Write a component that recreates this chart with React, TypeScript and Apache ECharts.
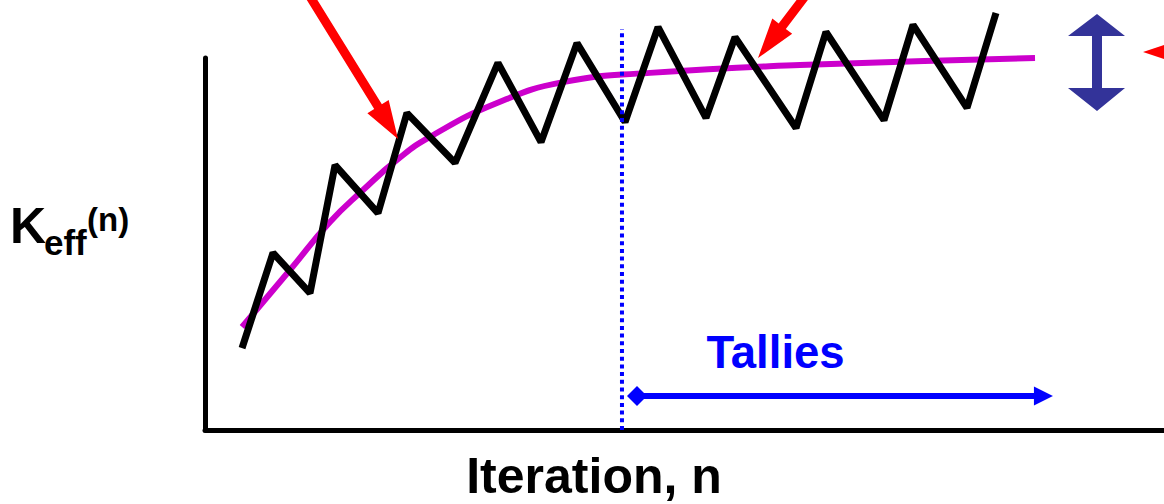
import { useEffect, useRef } from "react";
import * as echarts from "echarts";

// Iteration index (arbitrary units 0..100) and Keff (arbitrary units 0..100)
const iterZigzag = [3.86, 7.09, 10.95, 13.56, 18.04, 21.06, 26.07, 30.55, 35.04, 38.79, 43.8, 47.24, 52.24, 55.27, 61.63, 64.75, 70.8, 73.83, 79.46, 82.48];
const keffZigzag = [22.0, 47.6, 36.8, 71.2, 58.3, 85.2, 71.8, 98.7, 77.4, 104.0, 82.8, 108.3, 83.9, 105.6, 81.2, 107.0, 83.3, 108.9, 86.6, 112.1];

const iterMean = [3.86, 8.86, 13.03, 16.48, 20.02, 23.46, 30.45, 37.33, 46.4, 62.04, 86.55];
const keffMean = [27.7, 43.0, 55.9, 64.5, 72.6, 78.8, 87.9, 93.5, 96.0, 98.1, 100.0];

const tallyStart = 43.48; // start of tallies (dotted line)
const tallyArrowFrom = 45.05;
const tallyArrowTo = 87.43;
const tallyArrowLevel = 9.14;
const dottedTop = 107.8;

const xLabel = "Iteration, n";
const tallyLabel = "Tallies";

function arrowPts(x0: number, y0: number, x1: number, y1: number, sw: number, hl: number, hw: number) {
  const dx = x1 - x0, dy = y1 - y0;
  const len = Math.hypot(dx, dy);
  const ux = dx / len, uy = dy / len;
  const nx = -uy, ny = ux;
  const bx = x1 - ux * hl, by = y1 - uy * hl;
  return [
    [x0 + nx * sw / 2, y0 + ny * sw / 2],
    [bx + nx * sw / 2, by + ny * sw / 2],
    [bx + nx * hw / 2, by + ny * hw / 2],
    [x1, y1],
    [bx - nx * hw / 2, by - ny * hw / 2],
    [bx - nx * sw / 2, by - ny * sw / 2],
    [x0 - nx * sw / 2, y0 - ny * sw / 2],
  ];
}

export default function App() {
  const ref = useRef<HTMLDivElement>(null);
  useEffect(() => {
    const chart = echarts.init(ref.current!, null, { renderer: "svg" });
    const font = "'Liberation Sans', Arial, Helvetica, sans-serif";
    chart.setOption({
      animation: false,
      grid: { left: 205, right: 0, top: 58, bottom: 74 },
      xAxis: {
        type: "value",
        min: 0,
        max: 100,
        axisLine: { show: true, lineStyle: { color: "#000", width: 5 } },
        axisTick: { show: false },
        axisLabel: { show: false },
        splitLine: { show: false },
      },
      yAxis: {
        type: "value",
        min: 0,
        max: 100,
        axisLine: { show: true, lineStyle: { color: "#000", width: 5 } },
        axisTick: { show: false },
        axisLabel: { show: false },
        splitLine: { show: false },
      },
      series: [
        {
          type: "line",
          data: iterMean.map((x, i) => [x, keffMean[i]]),
          smooth: 0.5,
          symbol: "none",
          clip: false,
          z: 2,
          silent: true,
          lineStyle: { color: "#cc00cc", width: 6, cap: "butt" },
        },
        {
          type: "line",
          data: iterZigzag.map((x, i) => [x, keffZigzag[i]]),
          symbol: "none",
          clip: false,
          z: 3,
          silent: true,
          lineStyle: { color: "#000", width: 7, join: "bevel", cap: "butt" },
        },
        {
          type: "line",
          data: [[tallyStart, 0], [tallyStart, dottedTop]],
          symbol: "none",
          clip: false,
          z: 4,
          silent: true,
          lineStyle: { color: "#0000ff", width: 4, type: [4, 3.7], cap: "butt" },
        },
        {
          type: "line",
          data: [],
          clip: false,
          z: 4,
          silent: true,
          markLine: {
            silent: true,
            label: { show: false },
            emphasis: { disabled: true },
            data: [
              [
                { coord: [tallyArrowFrom, tallyArrowLevel], symbol: "diamond", symbolSize: 20, lineStyle: { color: "#0000ff", width: 6, type: "solid" }, itemStyle: { color: "#0000ff" } },
                { coord: [tallyArrowTo, tallyArrowLevel], symbol: "triangle", symbolSize: 19, itemStyle: { color: "#0000ff" } },
              ],
            ],
          },
        },
      ],
      graphic: [
        { type: "polygon", z: 100, silent: true, shape: { points: arrowPts(309, -5, 398, 139, 9, 38, 25) }, style: { fill: "#ff0000" } },
        { type: "polygon", z: 100, silent: true, shape: { points: arrowPts(806, -5, 758, 58, 9, 40, 25) }, style: { fill: "#ff0000" } },
        { type: "polygon", z: 100, silent: true, shape: { points: arrowPts(1200, 52, 1143, 52, 9, 38, 25) }, style: { fill: "#ff0000" } },
        {
          type: "polygon", z: 100, silent: true,
          shape: { points: [[1097, 14], [1125, 36], [1102, 36], [1102, 88], [1125, 88], [1097, 111], [1068, 88], [1092, 88], [1092, 36], [1068, 36]] },
          style: { fill: "#333399" },
        },
        { type: "text", z: 100, silent: true, x: 594, y: 476, style: { text: xLabel, fill: "#000", font: `bold 50px ${font}`, align: "center", verticalAlign: "middle" } },
        { type: "text", z: 100, silent: true, x: 775.5, y: 352, style: { text: tallyLabel, fill: "#0000ff", font: `bold 45.5px ${font}`, align: "center", verticalAlign: "middle" } },
        { type: "text", z: 100, silent: true, x: 10, y: 226, style: { text: "K", fill: "#000", font: `bold 50px ${font}`, align: "left", verticalAlign: "middle" } },
        { type: "text", z: 100, silent: true, x: 44, y: 242.5, style: { text: "eff", fill: "#000", font: `bold 35px ${font}`, align: "left", verticalAlign: "middle" } },
        { type: "text", z: 100, silent: true, x: 87, y: 219, style: { text: "(n)", fill: "#000", font: `bold 33px ${font}`, align: "left", verticalAlign: "middle" } },
      ],
    });
    return () => chart.dispose();
  }, []);
  return <div ref={ref} style={{ position: "fixed", left: 0, top: 0, width: 1164, height: 504, background: "#fff" }} />;
}
